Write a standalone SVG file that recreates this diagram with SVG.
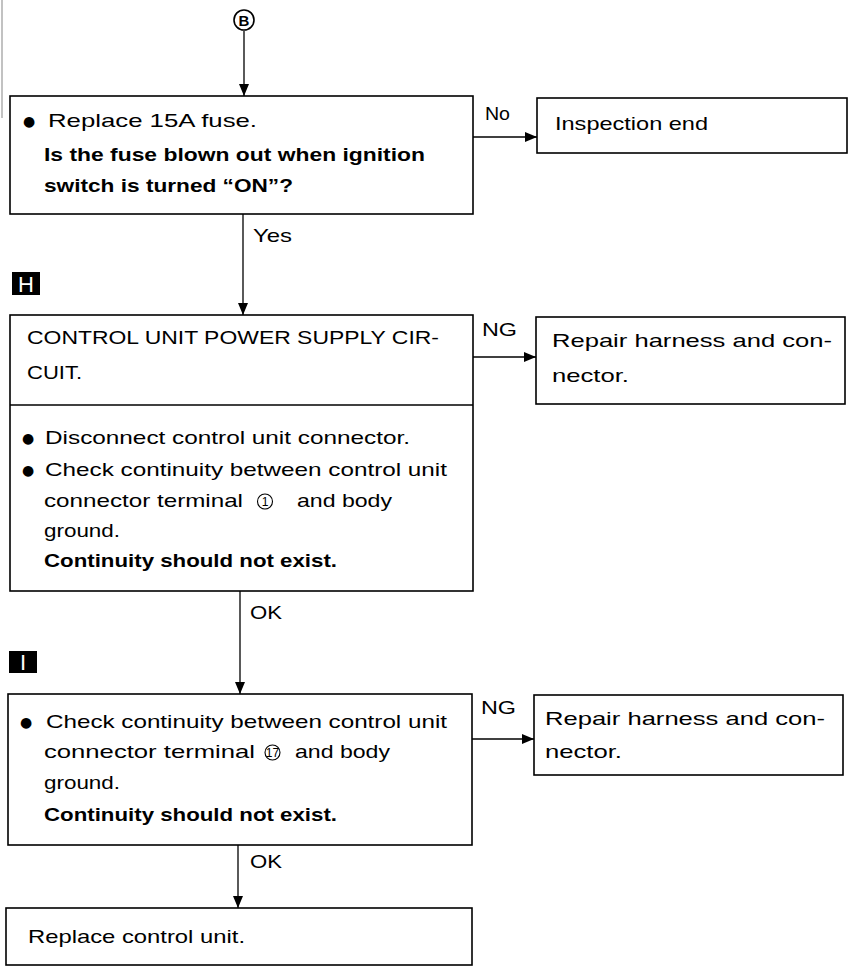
<svg xmlns="http://www.w3.org/2000/svg" width="850" height="966" viewBox="0 0 850 966">
<style>
.box{fill:#fff;stroke:#000;stroke-width:1.6}
.t{font-family:"Liberation Sans",Arial,sans-serif;font-size:18.5px;fill:#000}
.b{font-weight:bold}
.bul{font-family:"DejaVu Sans",sans-serif;font-size:14px;fill:#000}
.con{stroke:#000;stroke-width:1.3;fill:none}
.lt{font-family:"Liberation Sans",Arial,sans-serif;font-size:22px;fill:#fff;text-anchor:middle}
.cn{font-family:"Liberation Sans",Arial,sans-serif;font-size:12px;fill:#000;text-anchor:middle}
</style>
<defs>
<marker id="ah" markerUnits="userSpaceOnUse" markerWidth="12" markerHeight="12" refX="12" refY="6" orient="auto">
<path d="M0,1 L12,6 L0,11 Z" fill="#000"/>
</marker>
</defs>
<rect width="850" height="966" fill="#fff"/>
<line x1="2" y1="0" x2="2" y2="118" stroke="#999" stroke-width="1.2"/>

<g id="connectors">
<line class="con" x1="244" y1="31" x2="244" y2="96" marker-end="url(#ah)"/>
<line class="con" x1="473" y1="137" x2="537" y2="137" marker-end="url(#ah)"/>
<line class="con" x1="243" y1="214" x2="243" y2="315" marker-end="url(#ah)"/>
<line class="con" x1="473" y1="357" x2="536" y2="357" marker-end="url(#ah)"/>
<line class="con" x1="240" y1="591" x2="240" y2="694" marker-end="url(#ah)"/>
<line class="con" x1="472" y1="739" x2="534" y2="739" marker-end="url(#ah)"/>
<line class="con" x1="238" y1="845" x2="238" y2="908" marker-end="url(#ah)"/>
<text class="t" x="485" y="120" textLength="25" lengthAdjust="spacingAndGlyphs">No</text>
<text class="t" x="253" y="242" textLength="39" lengthAdjust="spacingAndGlyphs">Yes</text>
<text class="t" x="482" y="336" textLength="35" lengthAdjust="spacingAndGlyphs">NG</text>
<text class="t" x="250" y="619" textLength="32" lengthAdjust="spacingAndGlyphs">OK</text>
<text class="t" x="481" y="714" textLength="35" lengthAdjust="spacingAndGlyphs">NG</text>
<text class="t" x="250" y="868" textLength="32" lengthAdjust="spacingAndGlyphs">OK</text>
</g>

<g id="start-B">
<circle cx="244" cy="20" r="10" fill="none" stroke="#000" stroke-width="1.6"/>
<text x="244" y="25.5" font-family="Liberation Sans,Arial,sans-serif" font-size="15" font-weight="bold" text-anchor="middle">B</text>
</g>

<g id="fuse-check">
<rect class="box" x="10" y="96" width="463" height="118"/>
<text class="bul" x="23" y="126">●</text>
<text class="t" x="48" y="127" textLength="209" lengthAdjust="spacingAndGlyphs">Replace 15A fuse.</text>
<text class="t b" x="44" y="161" textLength="381" lengthAdjust="spacingAndGlyphs">Is the fuse blown out when ignition</text>
<text class="t b" x="44" y="192" textLength="249" lengthAdjust="spacingAndGlyphs">switch is turned “ON”?</text>
</g>

<g id="inspection-end">
<rect class="box" x="537" y="98" width="310" height="55"/>
<text class="t" x="555" y="130" textLength="153" lengthAdjust="spacingAndGlyphs">Inspection end</text>
</g>

<g id="label-H">
<rect x="12" y="272" width="28" height="23" fill="#000"/>
<text class="lt" x="26" y="292">H</text>
</g>

<g id="power-supply">
<rect class="box" x="10" y="315" width="463" height="276"/>
<line x1="10" y1="405" x2="473" y2="405" stroke="#000" stroke-width="1.6"/>
<text class="t" x="27" y="344" textLength="412" lengthAdjust="spacingAndGlyphs">CONTROL UNIT POWER SUPPLY CIR-</text>
<text class="t" x="27" y="379" textLength="55" lengthAdjust="spacingAndGlyphs">CUIT.</text>
<text class="bul" x="22" y="443">●</text>
<text class="t" x="45" y="444" textLength="365" lengthAdjust="spacingAndGlyphs">Disconnect control unit connector.</text>
<text class="bul" x="22" y="475">●</text>
<text class="t" x="45" y="476" textLength="402" lengthAdjust="spacingAndGlyphs">Check continuity between control unit</text>
<text class="t" x="44" y="507" textLength="199" lengthAdjust="spacingAndGlyphs">connector terminal</text>
<circle cx="265" cy="501.5" r="7.5" fill="none" stroke="#000" stroke-width="1.1"/>
<text class="cn" x="265" y="506">1</text>
<text class="t" x="297" y="507" textLength="95" lengthAdjust="spacingAndGlyphs">and body</text>
<text class="t" x="44" y="537" textLength="76" lengthAdjust="spacingAndGlyphs">ground.</text>
<text class="t b" x="44" y="567" textLength="293" lengthAdjust="spacingAndGlyphs">Continuity should not exist.</text>
</g>

<g id="repair-1">
<rect class="box" x="536" y="317" width="309" height="87"/>
<text class="t" x="552" y="347" textLength="280" lengthAdjust="spacingAndGlyphs">Repair harness and con-</text>
<text class="t" x="552" y="382" textLength="77" lengthAdjust="spacingAndGlyphs">nector.</text>
</g>

<g id="label-I">
<rect x="9" y="651" width="28" height="22" fill="#000"/>
<text class="lt" x="23" y="670">I</text>
</g>

<g id="terminal-17">
<rect class="box" x="8" y="694" width="464" height="151"/>
<text class="bul" x="20" y="727">●</text>
<text class="t" x="46" y="728" textLength="401" lengthAdjust="spacingAndGlyphs">Check continuity between control unit</text>
<text class="t" x="44" y="758" textLength="211" lengthAdjust="spacingAndGlyphs">connector terminal</text>
<circle cx="272.5" cy="752.5" r="7.5" fill="none" stroke="#000" stroke-width="1.1"/>
<text class="cn" x="272.5" y="756.5" font-size="10">17</text>
<text class="t" x="295" y="758" textLength="95" lengthAdjust="spacingAndGlyphs">and body</text>
<text class="t" x="44" y="789" textLength="76" lengthAdjust="spacingAndGlyphs">ground.</text>
<text class="t b" x="44" y="821" textLength="293" lengthAdjust="spacingAndGlyphs">Continuity should not exist.</text>
</g>

<g id="repair-2">
<rect class="box" x="534" y="695" width="309" height="80"/>
<text class="t" x="545" y="725" textLength="280" lengthAdjust="spacingAndGlyphs">Repair harness and con-</text>
<text class="t" x="545" y="758" textLength="77" lengthAdjust="spacingAndGlyphs">nector.</text>
</g>

<g id="replace-unit">
<rect class="box" x="6" y="908" width="466" height="57"/>
<text class="t" x="28" y="943" textLength="217" lengthAdjust="spacingAndGlyphs">Replace control unit.</text>
</g>
</svg>
